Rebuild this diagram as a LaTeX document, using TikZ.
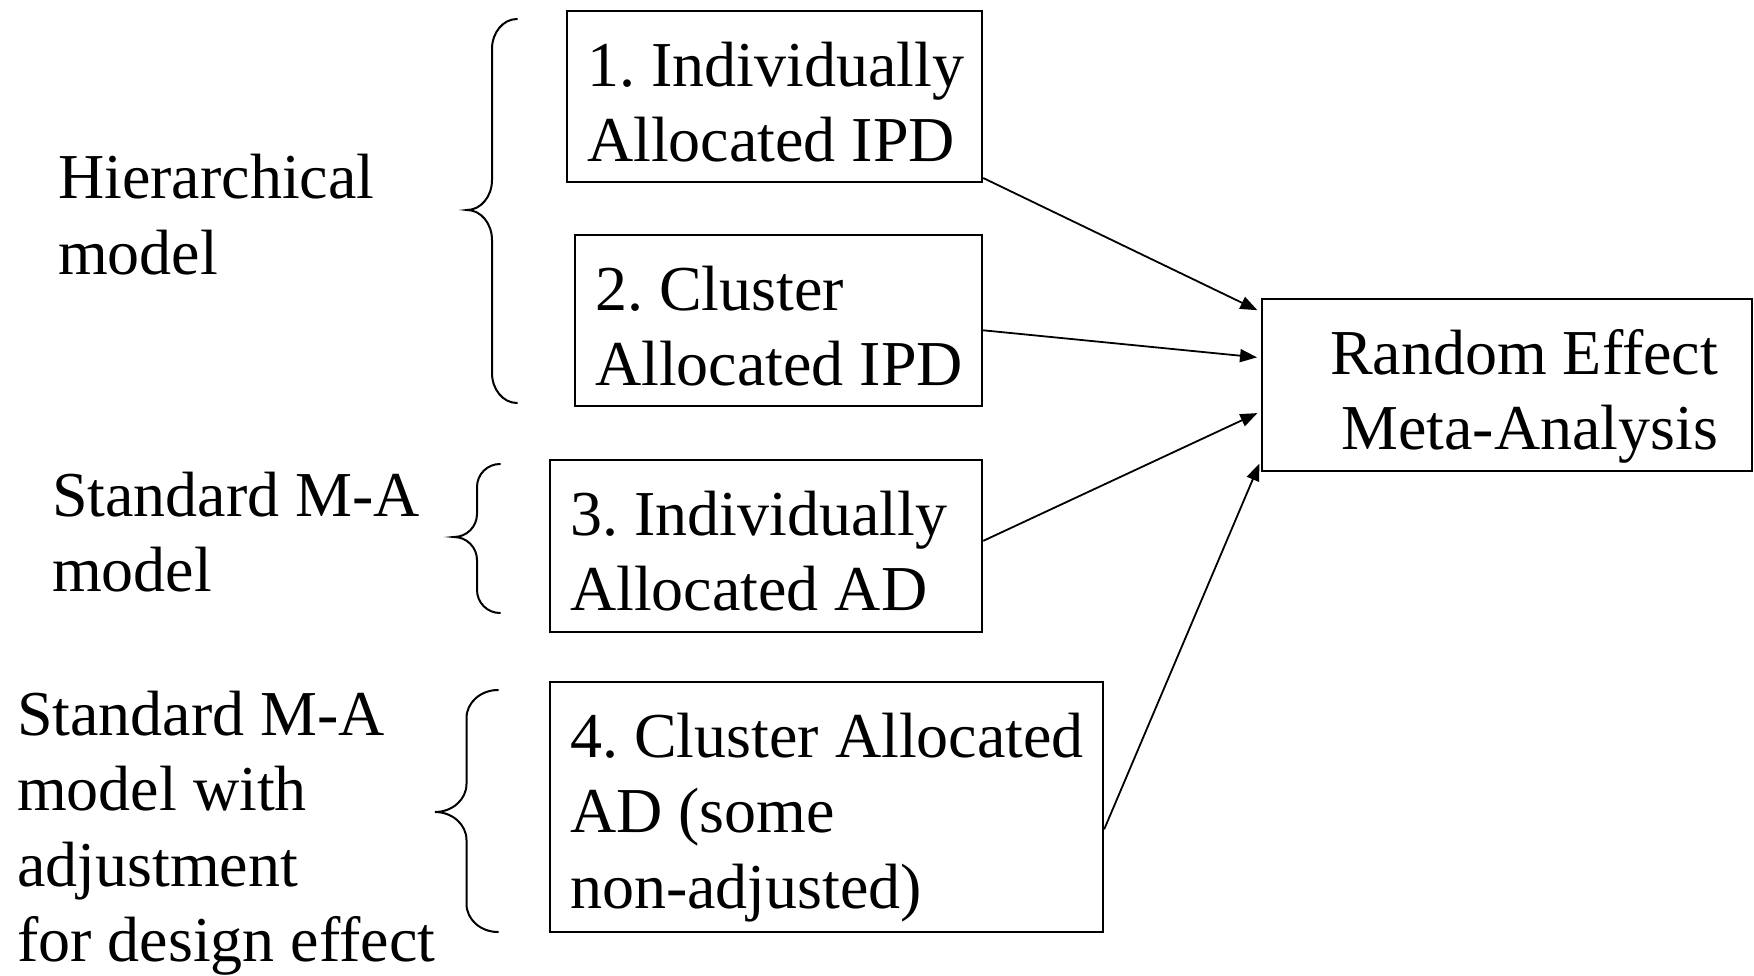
\documentclass[tikz,border=0pt]{standalone}
\usepackage{fontspec}
\setmainfont{Liberation Serif}
\usetikzlibrary{arrows.meta,calc}
\frenchspacing

% lines of a text block, first baseline is the block's baseline
\newcommand\boxlines[3]{\makebox[#1][#2]{\begin{tabular}[t]{@{}#2@{}}#3\end{tabular}}}

% left curly brace: tip x, end x, top y, tip y, bottom y, corner height
\newcommand\drawbrace[6]{%
  \pgfmathsetmacro\bxs{(#1+#2)/2}%
  \pgfmathsetmacro\brx{(#2-#1)/2}%
  \draw[bracestyle] (#2,#3) .. controls ({#2-0.552*\brx},#3) and (\bxs,{#3+0.448*#6}) .. (\bxs,{#3+#6})
    -- (\bxs,{#4-#6}) .. controls (\bxs,{#4-0.448*#6}) and ({#1+0.552*\brx},#4) .. (#1,#4)
    .. controls ({#1+0.552*\brx},#4) and (\bxs,{#4+0.448*#6}) .. (\bxs,{#4+#6})
    -- (\bxs,{#5-#6}) .. controls (\bxs,{#5-0.448*#6}) and ({#2-0.552*\brx},#5) .. (#2,#5);
}

\tikzset{
  modelbox/.style={draw, line width=2.2pt, anchor=north west, inner xsep=20pt,
    inner ysep=0pt, text height=75pt},
  sidetext/.style={anchor=base west, inner sep=0pt},
  link/.style={line width=1.8pt, -{Triangle[length=17pt,width=13pt]}, shorten >=4pt},
  bracestyle/.style={line width=2pt, line cap=round},
}

\begin{document}
\begin{tikzpicture}[x=1pt, y=-1pt, font=\fontsize{64pt}{75.5pt}\selectfont]
\fill[white] (0,0) rectangle (1754,976);
\useasboundingbox (0,0) rectangle (1754,976);

% data-source boxes
\node[modelbox, text depth=96pt] (b1) at (566,10)
  {\boxlines{375pt}{l}{1. Individually\\Allocated IPD}};
\node[modelbox, text depth=96pt] (b2) at (574,234)
  {\boxlines{367pt}{l}{2. Cluster\\Allocated IPD}};
\node[modelbox, text depth=97pt] (b3) at (549,459)
  {\boxlines{392pt}{l}{3. Individually\\Allocated AD}};
\node[modelbox, text depth=175pt] (b4) at (549,681)
  {\boxlines{513pt}{l}{4. Cluster Allocated\\AD (some\\non-adjusted)}};

% pooled analysis
\node[modelbox, text depth=97pt] (re) at (1261,298)
  {\boxlines{436pt}{r}{Random Effect\\Meta-Analysis}\hspace*{14pt}};

% model groups
\node[sidetext] (hier) at (58,199) {\boxlines{300pt}{l}{Hierarchical\\model}};
\node[sidetext] (std) at (52,516) {\boxlines{370pt}{l}{Standard M-A\\model}};
\node[sidetext] (stdadj) at (17,735) {\boxlines{420pt}{l}{Standard M-A\\model with\\adjustment\\for design effect}};

\drawbrace{467}{517}{19}{210}{403}{30}
\drawbrace{454}{500}{464}{537}{613}{23}
\drawbrace{435}{498}{690}{812}{932}{28}

% connectors
\draw[link] ($(b1.north east)!0.97!(b1.south east)$) -- ($(re.north west)!0.08!(re.south west)$);
\draw[link] ($(b2.north east)!0.556!(b2.south east)$) -- ($(re.north west)!0.343!(re.south west)$);
\draw[link] ($(b3.north east)!0.47!(b3.south east)$) -- ($(re.north west)!0.651!(re.south west)$);
\draw[link] ($(b4.north east)!0.588!(b4.south east)$) -- ($(re.north west)!0.93!(re.south west)$);
\end{tikzpicture}
\end{document}
